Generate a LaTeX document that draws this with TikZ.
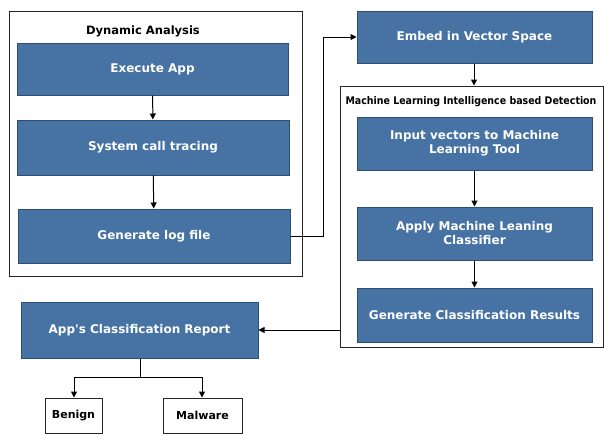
\documentclass[tikz,border=0pt]{standalone}
\usepackage{fontspec}
\setmainfont{DejaVu Sans}[Ligatures=TeXOff]
\newfontfamily\condfont{DejaVu Sans Condensed}[Ligatures=TeXOff]
\usetikzlibrary{arrows.meta,calc}
\definecolor{boxblue}{HTML}{4672A4}
\definecolor{boxedge}{HTML}{2E4E72}
\tikzset{
  x=1pt,y=-1pt,
  bluebox/.style={draw=boxedge,line width=1pt,fill=boxblue,text=white,font=\bfseries\fontsize{12}{14}\selectfont,align=center,inner sep=0pt},
  frame/.style={draw=black!85,line width=1pt},
  leafbox/.style={draw=black!85,line width=1pt,fill=white,font=\bfseries\fontsize{11}{13}\selectfont,inner sep=0pt},
  conn/.style={draw=black,line width=1pt,-{Triangle[length=6pt,width=6pt]}},
  plain/.style={draw=black,line width=1pt}
}
\newcommand{\bx}[6]{\node[#2,minimum width=#5-#3,minimum height=#6-#4] (#1) at ({(#3+#5)/2},{(#4+#6)/2})}
\begin{document}
\begin{tikzpicture}
\useasboundingbox (0,0) rectangle (604,434);
% frames
\bx{dyn}{frame}{9}{11}{302}{276}{};
\node[font=\bfseries\fontsize{11.5}{13}\selectfont] (dyntitle) at (143,31) {Dynamic Analysis};
\bx{ml}{frame}{340}{86}{603}{347}{};
\node[font=\condfont\bfseries\fontsize{10.5}{12}\selectfont] (mltitle) at (471,102) {Machine Learning Intelligence based Detection};
% blue boxes
\bx{exec}{bluebox}{17}{43}{288}{95}{Execute App};
\bx{sys}{bluebox}{17}{120}{289}{175}{System call tracing};
\bx{log}{bluebox}{18}{209}{290}{263}{Generate log file};
\bx{embed}{bluebox}{357}{11}{592}{63}{Embed in Vector Space};
\bx{input}{bluebox}{357}{117}{592}{170}{Input vectors to Machine\\Learning Tool};
\bx{apply}{bluebox}{357}{207}{592}{260}{Apply Machine Leaning\\Classifier};
\bx{gen}{bluebox}{357}{288}{592}{342}{Generate Classification Results};
\bx{report}{bluebox}{21}{302}{258}{358}{App's Classification Report};
\bx{benign}{leafbox}{45}{398}{102}{433}{Benign};
\bx{malware}{leafbox}{163}{398}{242}{433}{Malware};
% coordinates
\coordinate (c1) at (323,236);
\coordinate (c2) at (323,37);
\coordinate (t0) at (140,377);
\coordinate (tb) at (74,377);
\coordinate (tm) at (202,377);
% connectors
\draw[conn] (exec) -- (sys);
\draw[conn] (sys) -- (log);
\draw[conn] (log.east |- c1) -- (c1) -- (c2) -- (embed.west |- c2);
\draw[conn] (embed.south -| 474,0) -- (ml.north -| 474,0);
\draw[conn] (input) -- (apply);
\draw[conn] (apply) -- (gen);
\draw[conn] (ml.west |- report.east) -- (report.east);
\draw[plain] (report.south -| t0) -- (t0);
\draw[plain] (tb) -- (tm);
\draw[conn] (tb) -- (benign.north -| tb);
\draw[conn] (tm) -- (malware.north -| tm);
\end{tikzpicture}
\end{document}
